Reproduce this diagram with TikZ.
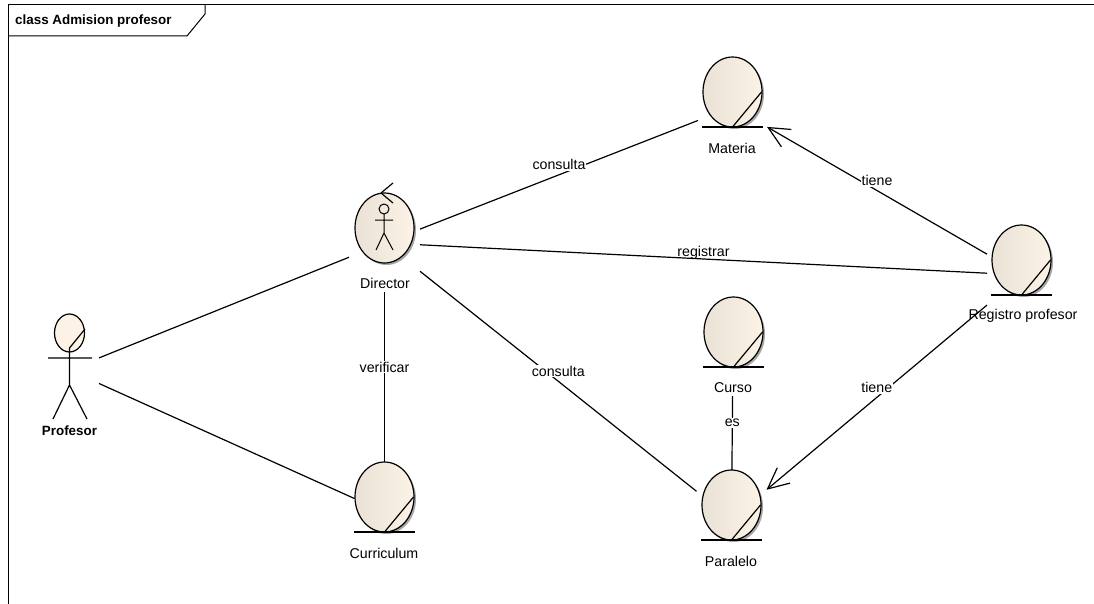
\documentclass[tikz,border=0pt]{standalone}
\usepackage{fontspec}
\setmainfont{Liberation Sans}
\usetikzlibrary{arrows.meta}
\definecolor{bodyleft}{RGB}{234,226,214}
\definecolor{bodyright}{RGB}{252,243,230}
\tikzset{
	elem/.style = {
		rectangle,
		inner sep = 0pt,
		outer sep = 0pt,
		minimum width = 72,
		minimum height = 100
	},
	lbl/.style = {
		font = \fontsize{14.2}{16}\selectfont,
		inner sep = 1pt
	},
	link/.style = {
		line width = 1.2pt
	},
	tag/.style = {
		lbl,
		fill = white,
		yshift = 10pt
	},
	barb/.style = {
		-{Straight Barb[length=21pt, width=20pt, line width=1.2pt]}
	},
	ball/.pic = {
		\fill [black!35] (2,2) ellipse [x radius = 29.5, y radius = 35] ;
		\draw [line width = 1.2pt, left color = bodyleft, middle color = bodyright, right color = bodyright] (0,0) ellipse [x radius = 29.5, y radius = 35] ;
	},
	entity/.pic = {
		\pic {ball} ;
		\draw [link] (-30.5,35) -- (30.5,35) ;
		\draw [link] (0,35) -- (29,0) ;
	}
}

\begin{document}
\begin{tikzpicture}[x=1pt, y=-1pt]
    \useasboundingbox (0,0) rectangle (1094,604) ;

    % frame
    \draw [line width = 1pt] (8,604) -- (8,5) -- (1094,5) ;
    \draw [line width = 1pt] (8,36) -- (187,36) -- (205,14) -- (205,5) ;
    \node [font = \fontsize{13.4}{15}\selectfont\bfseries, anchor = west, inner sep = 0pt] (title) at (15,21) {class Admision profesor} ;

    % element boxes
    \node [elem, minimum width = 60, minimum height = 116] (profesor) at (69,370) {} ;
    \node [elem, minimum width = 71, minimum height = 98] (director) at (384.5,243) {} ;
    \node [elem, minimum width = 60, minimum height = 100] (curriculum) at (384.5,512) {} ;
    \node [elem, minimum width = 69] (materia) at (732.5,107) {} ;
    \node [elem, minimum height = 99] (registro) at (1023,275) {} ;
    \node [elem, minimum height = 99] (curso) at (733,346.5) {} ;
    \node [elem, minimum width = 70, minimum height = 98] (paralelo) at (731.5,519) {} ;

    % actor
    \draw [line width = 1.2pt, fill = bodyright] (69.5,333) ellipse [x radius = 15, y radius = 19] ;
    \draw [link] (85,329) -- (69.5,348) -- (69.5,385) (48,358) -- (92,358) (53,419) -- (69.5,385) -- (87,419) ;
    \node [lbl, font = \fontsize{13.4}{15}\selectfont\bfseries] (profesortext) at (69.5,431) {Profesor} ;

    % boundary
    \pic at (384.5,228) {ball} ;
    \draw [link] (381,193) -- (393,183) (381,193) -- (393,203) ;
    \draw [line width = 1pt] (384,209) circle [radius = 5] ;
    \draw [line width = 1pt] (384,214) -- (384,233) (375,220) -- (393,220) (376,250) -- (384,233) -- (393,250) ;
    \node [lbl] (directortext) at (385,283) {Director} ;

    % entities
    \pic at (384.5,497) {entity} ;
    \node [lbl] (curriculumtext) at (384,553) {Curriculum} ;
    \pic at (732.5,92) {entity} ;
    \node [lbl] (materiatext) at (732,148) {Materia} ;
    \pic at (1021.5,260) {entity} ;
    \node [lbl] (registrotext) at (1023,316) {Registro profesor} ;
    \pic at (733.5,332) {entity} ;
    \node [lbl] (cursotext) at (733,388) {Curso} ;
    \pic at (731.5,505) {entity} ;
    \node [lbl] (paralelotext) at (731,561) {Paralelo} ;

    % links
    \draw [link] (profesor) -- (director) ;
    \draw [link] (profesor) -- (curriculum) ;
    \draw [link] (director) -- node [tag] {verificar} (curriculum) ;
    \draw [link] (director) -- node [tag] {consulta} (materia) ;
    \draw [link] (director) -- node [lbl, yshift = 6pt] {registrar} (registro) ;
    \draw [link] (director) -- node [tag] {consulta} (paralelo) ;
    \draw [link] (curso) -- node [tag] {es} (paralelo) ;
    \draw [link, barb] (registro) -- node [tag] {tiene} (materia) ;
    \draw [link, barb] (registro) -- node [tag] {tiene} (paralelo) ;
\end{tikzpicture}
\end{document}
